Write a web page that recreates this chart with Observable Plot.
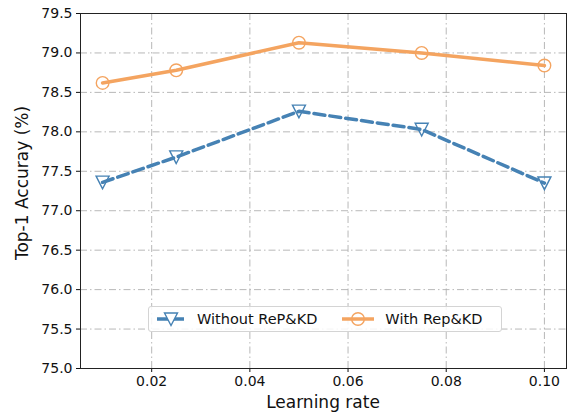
<!DOCTYPE html>
<html>
<head>
<meta charset="utf-8">
<script src="https://cdn.jsdelivr.net/npm/d3@7"></script>
<script src="https://cdn.jsdelivr.net/npm/@observablehq/plot@0.6"></script>
<style>
  body { margin: 0; background: #fff; font-family: "DejaVu Sans", sans-serif; }
  #wrap { position: relative; width: 583px; height: 419px; }
  .ax-label { position: absolute; font-size: 17px; color: #111; white-space: nowrap; }
  #xlab { left: 80px; width: 486px; top: 392px; text-align: center; }
  #ylab { left: 22px; top: 183px; transform: translate(-50%, -50%) rotate(-90deg); }
  #legend {
    position: absolute; left: 148px; top: 306px; width: 354px; height: 26px;
    box-sizing: border-box; border: 1px solid #d4d4d4; border-radius: 3px;
    background: rgba(255,255,255,0.85); display: flex; align-items: center;
    font-size: 14.5px; color: #111;
  }
  .item { display: flex; align-items: center; }
  .item svg { margin: 0 9px 0 3px; }
</style>
</head>
<body>
<div id="wrap">
  <div id="chart"></div>
  <div class="ax-label" id="xlab">Learning rate</div>
  <div class="ax-label" id="ylab">Top-1 Accuray (%)</div>
  <div id="legend"></div>
</div>
<script>
// learning rates tried
const lrs = [0.01, 0.025, 0.05, 0.075, 0.1];
// top-1 accuracy
const withoutRepKD = [77.36, 77.68, 78.26, 78.03, 77.35];
const withRepKD = [78.62, 78.78, 79.13, 79.00, 78.84];
const seriesNames = ["Without ReP&KD", "With Rep&KD"];
const xTicks = [0.02, 0.04, 0.06, 0.08, 0.10];
const yTicks = [75.0, 75.5, 76.0, 76.5, 77.0, 77.5, 78.0, 78.5, 79.0, 79.5];

const BLUE = "#4682b4";
const ORANGE = "#f4a460";

const filas = lrs.flatMap((lr, i) => [
  { lr, acc: withoutRepKD[i], serie: seriesNames[0] },
  { lr, acc: withRepKD[i], serie: seriesNames[1] },
]);
const sinRep = filas.filter((d) => d.serie === seriesNames[0]);
const conRep = filas.filter((d) => d.serie === seriesNames[1]);

// matplotlib style "v" marker (triangle pointing down, bbox-centred)
const trianguloAbajo = {
  draw(ctx, size) {
    const r = Math.sqrt(size / Math.PI);
    ctx.moveTo(0, r);
    ctx.lineTo(-r, -r * 0.95);
    ctx.lineTo(r, -r * 0.95);
    ctx.closePath();
  },
};

const grid = { stroke: "#b0b0b0", strokeOpacity: 1, strokeWidth: 0.9, strokeDasharray: "7 3 1.5 3" };

const chart = Plot.plot({
  width: 583,
  height: 419,
  marginLeft: 80,
  marginRight: 17,
  marginTop: 13,
  marginBottom: 51,
  style: { fontFamily: "DejaVu Sans, sans-serif", fontSize: "14px", color: "#111", background: "#fff" },
  x: { domain: [0.0055, 0.1045], ticks: xTicks, tickFormat: ".2f", label: null, tickSize: 4, tickPadding: 4 },
  y: { domain: [75, 79.5], ticks: yTicks, tickFormat: ".1f", label: null, tickSize: 4, tickPadding: 4 },
  marks: [
    Plot.gridX(xTicks, { ...grid }),
    Plot.gridY(yTicks, { ...grid }),
    Plot.line(sinRep, { x: "lr", y: "acc", stroke: BLUE, strokeWidth: 3.5, strokeDasharray: "11 5" }),
    Plot.dot(sinRep, { x: "lr", y: "acc", stroke: BLUE, fill: "none", strokeWidth: 1.4, r: 6.5, symbol: trianguloAbajo }),
    Plot.line(conRep, { x: "lr", y: "acc", stroke: ORANGE, strokeWidth: 3.5 }),
    Plot.dot(conRep, { x: "lr", y: "acc", stroke: ORANGE, fill: "none", strokeWidth: 1.4, r: 6.3 }),
    Plot.frame({ stroke: "#222", strokeWidth: 1 }),
  ],
});
document.getElementById("chart").appendChild(chart);

// leyenda dentro del área de trazado
const leg = document.getElementById("legend");
leg.innerHTML = `
  <div class="item" style="margin-left:2px">
    <svg width="34" height="20"><line x1="2" y1="10" x2="32" y2="10" stroke="${BLUE}" stroke-width="3.5" stroke-dasharray="11 5" stroke-dashoffset="-1"/>
    <path d="M17,16.5 L10.5,4 L23.5,4 Z" fill="white" stroke="${BLUE}" stroke-width="1.4"/></svg>
    <span>${seriesNames[0]}</span>
  </div>
  <div class="item" style="margin-left:20px">
    <svg width="36" height="20"><line x1="2" y1="10" x2="34" y2="10" stroke="${ORANGE}" stroke-width="3.5"/>
    <circle cx="18" cy="10" r="6.3" fill="none" stroke="${ORANGE}" stroke-width="1.4"/></svg>
    <span>${seriesNames[1]}</span>
  </div>`;
</script>
</body>
</html>
